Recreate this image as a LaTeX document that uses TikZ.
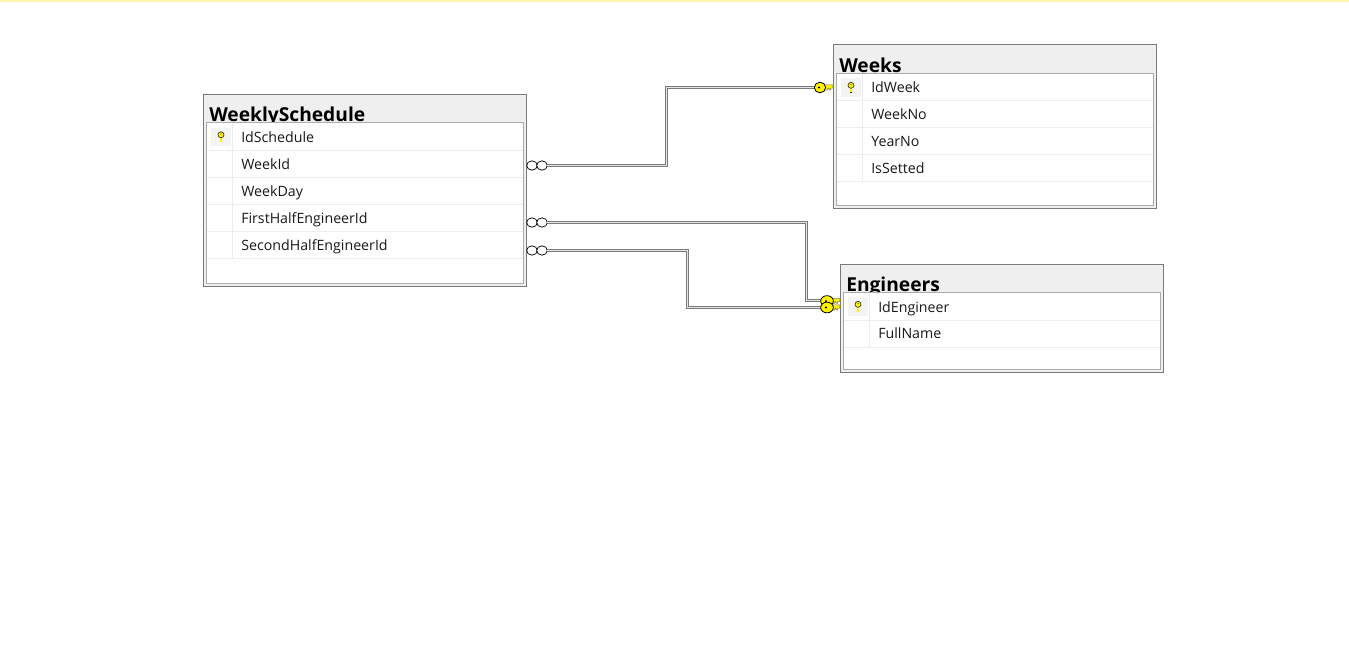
\documentclass[tikz,border=0pt]{standalone}
\usepackage{fontspec}
\usetikzlibrary{shapes.geometric}
\setmainfont{Open Sans}
\newcommand{\rowfont}{\fontsize{10.65pt}{12pt}\selectfont}
\newcommand{\titlefont}{\fontsize{14.4pt}{16pt}\bfseries\selectfont}
\definecolor{framegray}{HTML}{7A7A7A}
\definecolor{innergray}{HTML}{ABABAB}
\definecolor{headgray}{HTML}{EFEFEF}
\definecolor{sepgray}{HTML}{EDEDED}
\definecolor{keyyellow}{HTML}{FFF200}
\definecolor{topstrip}{HTML}{FFF5AE}
\tikzset{
  outerbox/.style={draw=framegray,line width=0.65pt,fill=headgray,outer sep=0pt},
  innerbox/.style={draw=innergray,line width=0.6pt,fill=white,outer sep=0pt},
  sepline/.style={draw=sepgray,line width=0.75pt},
  titletext/.style={anchor=base west,inner sep=0pt,font=\titlefont,text=black},
  rowtext/.style={anchor=base west,inner sep=0pt,font=\rowfont,text=black!90},
  keycell/.style={fill=headgray!70,draw=none,minimum width=15pt,minimum height=14pt,inner sep=0pt},
  relline/.style={draw=framegray,line width=0.95pt,double=white!90!black,double distance=0.7pt},
  manyend/.style={ellipse,draw=black,fill=white,line width=0.55pt,minimum width=8pt,minimum height=7pt,inner sep=0pt,outer sep=0pt},
  keyhead/.style={ellipse,draw=black,fill=keyyellow,line width=0.6pt,minimum width=#1,minimum height=8pt,inner sep=0pt,outer sep=0pt},
  keyshaft/.style={draw=black!55!yellow,line width=0.5pt,fill=keyyellow},
}
% #1 id, #2 left, #3 top, #4 bottom, #5 title, #6 inner top
\newcommand{\dbbox}[6]{%
  \node[outerbox,anchor=north west,inner sep=0pt,minimum width=242pt,minimum height={(#4-#3+0.5)*0.75pt}] (#1) at (#2-0.5,#3-0.5) {};
  \node[titletext] (#1title) at (#2+5,#6-1) {#5};
  \node[innerbox,anchor=north west,inner sep=0pt,minimum width=237.4pt,minimum height={(#4-3-#6)*0.75pt}] (#1inner) at (#2+2.5,#6) {};
}
% #1 id, #2 left, #3 row text centre y, #4 text
\newcommand{\dbrow}[4]{%
  \draw[sepline] (#2+3,#3+13.5) -- (#2+319,#3+13.5);
  \draw[sepline] (#2+28.5,#3-13.5) -- (#2+28.5,#3+13.5);
  \node[rowtext] (#1) at (#2+37,#3+5.5) {#4};
}
% #1 id, #2 left, #3 y : small key icon in first row
\newcommand{\dbkey}[3]{%
  \node[keycell] (#1cell) at (#2+17,#3) {};
  \draw[black!80,line width=1.9pt] (#2+17,#3-0.5) -- (#2+17,#3+5.5);
  \draw[keyyellow,line width=0.8pt] (#2+17,#3) -- (#2+17,#3+5);
  \fill[keyyellow,draw=black!80,line width=0.5pt] (#2+17,#3-2.2) circle (3);
  \fill[black!70] (#2+17,#3-3) circle (0.6);
}
% #1 name, #2 x, #3 y, #4 shaft length, #5 head width
\newcommand{\bigkey}[5]{%
  \path[keyshaft] (#2+3,#3-2.6) -- (#2+#4,#3-2.6) -- (#2+#4,#3+0.6) -- (#2+#4-2,#3+0.6) -- (#2+#4-3,#3+2.6) -- (#2+#4-4.5,#3+0.6) -- (#2+#4-6,#3+2.6) -- (#2+3,#3+2.6) -- cycle;
  \node[keyhead=#5] (#1) at (#2,#3) {};
  \fill[black] (#2-1,#3) circle (1.1);
}
\begin{document}
\begin{tikzpicture}[x=0.75pt,y=-0.75pt]
\useasboundingbox (0,0) rectangle (1349,670);
\fill[white] (0,0) rectangle (1349,670);
\fill[topstrip] (0,0) rectangle (1349,2);

% WeeklySchedule
\dbbox{ws}{204}{95}{286}{WeeklySchedule}{122.5}
\dbkey{ws}{204}{137}
\dbrow{wsa}{204}{137}{IdSchedule}
\dbrow{wsb}{204}{164}{WeekId}
\dbrow{wsc}{204}{191}{WeekDay}
\dbrow{wsd}{204}{218}{FirstHalfEngineerId}
\dbrow{wse}{204}{245}{SecondHalfEngineerId}

% Weeks
\dbbox{wk}{834}{45}{208}{Weeks}{73.5}
\dbkey{wk}{834}{87.5}
\dbrow{wka}{834}{87.5}{IdWeek}
\dbrow{wkb}{834}{114.5}{WeekNo}
\dbrow{wkc}{834}{141.5}{YearNo}
\dbrow{wkd}{834}{168.5}{IsSetted}

% Engineers
\dbbox{en}{841}{265}{372}{Engineers}{292.5}
\dbkey{en}{841}{306.5}
\dbrow{ena}{841}{306.5}{IdEngineer}
\dbrow{enb}{841}{333.5}{FullName}

% connector ends
\node[manyend] (fka) at (532,165.5) {};
\node[manyend] (fkaa) at (542,165.5) {};
\node[manyend] (fkb) at (532,222.5) {};
\node[manyend] (fkbb) at (542,222.5) {};
\node[manyend] (fkc) at (532,250.5) {};
\node[manyend] (fkcc) at (542,250.5) {};
\coordinate (benda) at (666.5,87.5);
\coordinate (bendb) at (806.5,300.5);
\coordinate (bendc) at (687.5,307.5);
\coordinate (enda) at (815,87.5);
\coordinate (endb) at (822,300.5);
\coordinate (endc) at (822,307.5);

% connectors
\draw[relline] (fkaa.east) -- (fkaa.east -| benda) -- (benda) -- (enda);
\draw[relline] (fkbb.east) -- (fkbb.east -| bendb) -- (bendb) -- (endb);
\draw[relline] (fkcc.east) -- (fkcc.east -| bendc) -- (bendc) -- (endc);
\bigkey{pka}{820}{87.5}{13}{8.5pt}
\bigkey{pkb}{827}{301}{13}{9.5pt}
\bigkey{pkc}{827}{307.5}{13}{9.5pt}
\end{tikzpicture}
\end{document}
